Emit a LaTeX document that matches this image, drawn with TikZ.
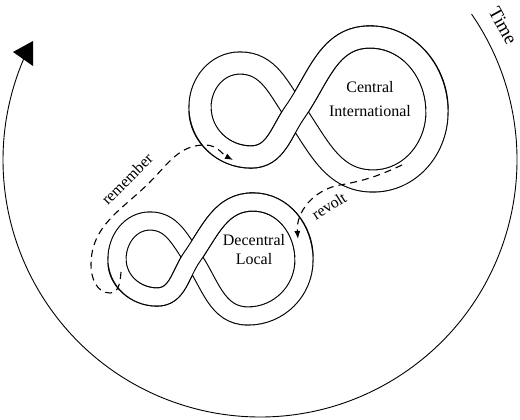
\documentclass[tikz,border=0pt]{standalone}
\usepackage{fontspec}
\setmainfont{Liberation Serif}
\usetikzlibrary{arrows.meta}

\tikzset{
  band/.style={line width=1.1pt, double=white, double distance=#1},
  over/.style={line width=#1+2.2pt, shorten <=3pt, shorten >=3pt,
    postaction={draw=white, line width=#1, shorten <=0pt, shorten >=0pt}},
  flow/.style={line width=1.1pt, dash pattern=on 7pt off 5pt,
    -{Latex[length=8pt,width=6pt]}},
  label/.style={inner sep=0pt, align=center}
}

\begin{document}
\begin{tikzpicture}[x=1pt, y=1pt, font=\fontsize{16}{19}\selectfont]
  \useasboundingbox (0,0) rectangle (520,420);

  % time circle
  \draw[line width=0.9pt] (260,260) ++(34.6:257)
    arc[start angle=34.6, end angle=-204, radius=257] coordinate (time end);
  \fill (13,368) -- (33,379) -- (33,354) -- cycle;
  \node[label, rotate=-61, font=\fontsize{19}{22}\selectfont] (time) at (503,394) {Time};

  % central loop
  \begin{scope}[shift={(295,308)}]
    \draw[band=21pt] (-95,5) to[out=90, in=180] (-55,49) to[out=0, in=125] (0,0)
      to[out=-55, in=180] (78,-69) to[out=0, in=-90] (142,0)
      to[out=90, in=0] (75,75) to[out=180, in=55] (0,0)
      to[out=235, in=0] (-44,-45) to[out=180, in=-90] cycle;
    \draw[over=21pt] (142,0) to[out=90, in=0] (75,75) to[out=180, in=55] (0,0)
      to[out=235, in=0] (-44,-45) to[out=180, in=-90] (-95,5);
  \end{scope}
  \node[label] (central) at (370,321) {Central\\[5pt]International};

  % decentral loop
  \begin{scope}[shift={(192,163)}]
    \draw[band=17pt] (-75,-2) to[out=90, in=180] (-42,36) to[out=0, in=125] (0,0)
      to[out=-55, in=180] (56,-59) to[out=0, in=-90] (112,-3)
      to[out=90, in=0] (61,55) to[out=180, in=55] (0,0)
      to[out=235, in=0] (-35,-40) to[out=180, in=-90] cycle;
    \draw[over=17pt] (112,-3) to[out=90, in=0] (61,55) to[out=180, in=55] (0,0)
      to[out=235, in=0] (-35,-40) to[out=180, in=-90] (-75,-2);
  \end{scope}
  \node[label] (decentral) at (254,170) {Decentral\\Local};

  % remember and revolt
  \coordinate (rem start) at (121,148);
  \coordinate (rem end) at (233,260);
  \draw[flow] (rem start) to[out=-95, in=0] (110,127) to[out=180, in=-90] (91,155)
    to[out=90, in=225] (150,238) to[out=45, in=180] (205,275) to[out=0, in=152] (rem end);
  \node[label, rotate=45] (remember) at (127,241) {remember};

  \coordinate (rev start) at (402,255);
  \coordinate (rev end) at (298,181);
  \draw[flow] (rev start) to[out=205, in=10] (340,235) to[out=190, in=95] (rev end);
  \node[label, rotate=32] (revolt) at (329,214) {revolt};
\end{tikzpicture}
\end{document}
